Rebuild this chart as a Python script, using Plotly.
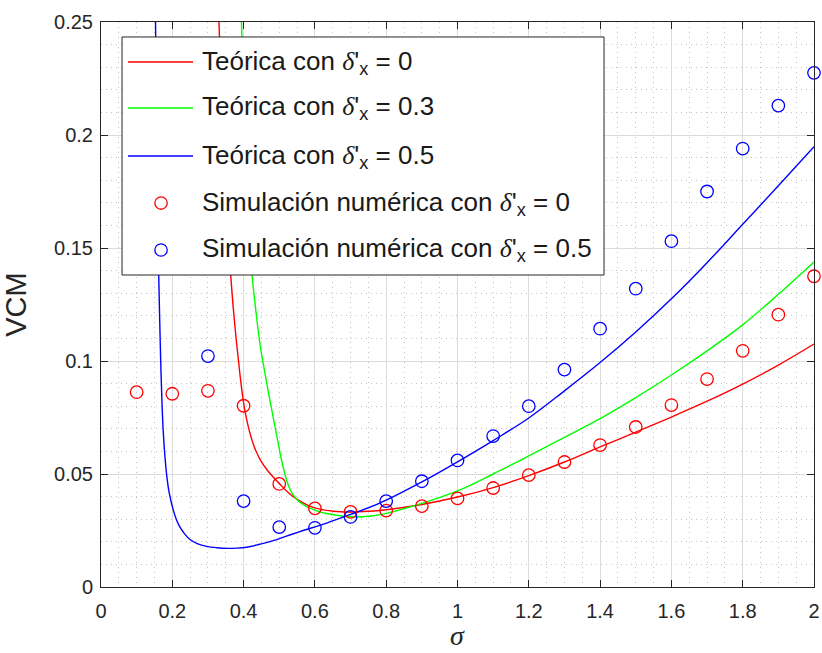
import plotly.graph_objects as go

# ---- Theoretical curves (sampled) ----
sigma_th_d0 = [0.326, 0.331, 0.340, 0.350, 0.357, 0.3638, 0.371, 0.3806, 0.390, 0.399,
               0.408, 0.418, 0.430, 0.446, 0.465, 0.483, 0.502, 0.525, 0.549, 0.5955,
               0.652, 0.698, 0.75, 0.8, 0.9, 1.0, 1.1, 1.2, 1.3, 1.4, 1.5, 1.6, 1.7,
               1.8, 1.9, 2.0]
vcm_th_d0 = [0.27, 0.25, 0.205, 0.172, 0.154, 0.1382, 0.1235, 0.1075, 0.0937, 0.0825,
             0.0745, 0.0680, 0.0620, 0.0565, 0.0520, 0.0487, 0.0455, 0.0418, 0.0389, 0.0352,
             0.0335, 0.0332, 0.0335, 0.0342, 0.0365, 0.0398, 0.0440, 0.0493, 0.0553, 0.0620,
             0.0685, 0.0752, 0.0822, 0.0898, 0.0982, 0.1075]

sigma_th_d03 = [0.390, 0.394, 0.401, 0.409, 0.416, 0.4227, 0.432, 0.446, 0.460, 0.474,
                0.493, 0.505, 0.515, 0.525, 0.537, 0.555, 0.577, 0.605, 0.633, 0.689,
                0.72, 0.764, 0.8, 0.9, 1.0, 1.1, 1.2, 1.3, 1.4, 1.5, 1.6, 1.7, 1.8,
                1.9, 2.0]
vcm_th_d03 = [0.27, 0.25, 0.212, 0.178, 0.155, 0.140, 0.1255, 0.1075, 0.0945, 0.0825,
              0.0670, 0.0572, 0.0505, 0.0452, 0.0412, 0.0378, 0.0356, 0.0337, 0.0325, 0.0312,
              0.0310, 0.0315, 0.0326, 0.0370, 0.0425, 0.0500, 0.0580, 0.0662, 0.0745, 0.0838,
              0.0938, 0.1045, 0.1160, 0.1295, 0.1438]

sigma_th_d05 = [0.152, 0.153, 0.155, 0.157, 0.159, 0.161, 0.163, 0.1655, 0.168, 0.171,
                0.1745, 0.1795, 0.185, 0.1915, 0.2028, 0.2116, 0.2216, 0.235, 0.2497, 0.27,
                0.2965, 0.325, 0.3526, 0.38, 0.4087, 0.445, 0.4833, 0.52, 0.558, 0.633,
                0.698, 0.783, 0.9, 1.0, 1.1, 1.2, 1.3, 1.4, 1.5, 1.6, 1.7, 1.8, 1.9, 2.0]
vcm_th_d05 = [0.27, 0.25, 0.216, 0.188, 0.165, 0.146, 0.130, 0.1125, 0.097, 0.0818,
              0.0690, 0.0575, 0.0485, 0.0415, 0.0340, 0.0298, 0.0265, 0.0234, 0.0210, 0.0192,
              0.0180, 0.0174, 0.0171, 0.0172, 0.0176, 0.0189, 0.0205, 0.0225, 0.0245, 0.0283,
              0.0320, 0.0372, 0.0465, 0.0554, 0.0648, 0.0748, 0.0868, 0.0993, 0.1128, 0.1275,
              0.1435, 0.1605, 0.1775, 0.1948]

# ---- Numerical simulation ----
sigma_sim_d0 = [0.1, 0.2, 0.3, 0.4, 0.5, 0.6, 0.7, 0.8, 0.9, 1.0, 1.1, 1.2, 1.3, 1.4,
                1.5, 1.6, 1.7, 1.8, 1.9, 2.0]
vcm_sim_d0 = [0.0862, 0.0855, 0.0868, 0.0802, 0.0456, 0.0348, 0.0332, 0.0338, 0.0358,
              0.0392, 0.0438, 0.0495, 0.0553, 0.0628, 0.0708, 0.0805, 0.0920, 0.1045,
              0.1205, 0.1375]

sigma_sim_d05 = [0.3, 0.4, 0.5, 0.6, 0.7, 0.8, 0.9, 1.0, 1.1, 1.2, 1.3, 1.4, 1.5, 1.6,
                 1.7, 1.8, 1.9, 2.0]
vcm_sim_d05 = [0.1022, 0.0380, 0.0265, 0.0262, 0.0310, 0.0380, 0.0468, 0.0560, 0.0668,
               0.0800, 0.0962, 0.1143, 0.1320, 0.1530, 0.1750, 0.1940, 0.2130, 0.2275]

DELTA = "<span style=\"font-family:Liberation Serif\"><i>δ</i></span>'<sub>x</sub>"
legend_labels = [
    f"Teórica con {DELTA} = 0",
    f"Teórica con {DELTA} = 0.3",
    f"Teórica con {DELTA} = 0.5",
    f"Simulación numérica con {DELTA} = 0",
    f"Simulación numérica con {DELTA} = 0.5",
]

RED, GREEN, BLUE = "#ff0000", "#00ff00", "#0000ff"
AX = "#262626"
FONT = "Liberation Sans, Arial, sans-serif"

fig = go.Figure()
for xs, ys, c in [(sigma_th_d0, vcm_th_d0, RED),
                  (sigma_th_d03, vcm_th_d03, GREEN),
                  (sigma_th_d05, vcm_th_d05, BLUE)]:
    fig.add_trace(go.Scatter(x=xs, y=ys, mode="lines",
                             line=dict(color=c, width=1.4, shape="spline", smoothing=1.0),
                             showlegend=False, hoverinfo="skip"))

for xs, ys, c in [(sigma_sim_d0, vcm_sim_d0, RED), (sigma_sim_d05, vcm_sim_d05, BLUE)]:
    fig.add_trace(go.Scatter(x=xs, y=ys, mode="markers", cliponaxis=False,
                             marker=dict(symbol="circle-open", size=12.5, color=c,
                                         line=dict(width=1.3, color=c)),
                             showlegend=False))

# ---- Legend box (drawn on the plot area, paper coordinates) ----
box = dict(x0=0.0295, x1=0.7055, y0=0.5522, y1=0.9735)
row_y = [0.9292, 0.8478, 0.7628, 0.6796, 0.5965]
sym_x0, sym_x1, sym_xc, txt_x = 0.0379, 0.129, 0.0842, 0.1389

shapes = [dict(type="rect", xref="paper", yref="paper", layer="above",
               fillcolor="white", line=dict(color=AX, width=1), **box)]
for yy, c in zip(row_y[:3], [RED, GREEN, BLUE]):
    shapes.append(dict(type="line", xref="paper", yref="paper", layer="above",
                       x0=sym_x0, x1=sym_x1, y0=yy, y1=yy, line=dict(color=c, width=1.4)))
for yy, c in zip(row_y[3:], [RED, BLUE]):
    shapes.append(dict(type="circle", xref="paper", yref="paper", layer="above",
                       xsizemode="pixel", ysizemode="pixel", xanchor=sym_xc, yanchor=yy,
                       x0=-6.2, x1=6.2, y0=-6.2, y1=6.2, line=dict(color=c, width=1.3)))

annotations = []
for yy, lab in zip(row_y, legend_labels):
    annotations.append(dict(xref="paper", yref="paper", x=txt_x, y=yy, text=lab,
                            showarrow=False, xanchor="left", yanchor="middle",
                            font=dict(family=FONT, size=26, color="#1a1a1a")))

# x-axis title, placed below the tick labels
annotations.append(dict(xref="paper", yref="paper", x=0.5, y=-0.115, text="<i>σ</i>",
                        showarrow=False, xanchor="center", yanchor="bottom", borderpad=0,
                        font=dict(family="Liberation Serif, serif", size=28, color=AX)))

axis_common = dict(showline=True, linecolor=AX, linewidth=1, mirror="ticks",
                   ticks="inside", ticklen=7, tickcolor=AX, tickwidth=1,
                   showgrid=True, gridcolor="#dcdcdc", gridwidth=1, zeroline=False,
                   automargin=False,
                   tickfont=dict(family=FONT, size=20, color=AX))

fig.update_layout(
    width=822, height=653, autosize=False,
    margin=dict(l=101, r=8, t=22, b=66),
    paper_bgcolor="white", plot_bgcolor="white",
    shapes=shapes, annotations=annotations,
    xaxis=dict(range=[0, 2], dtick=0.2, tick0=0, ticklabelstandoff=6,
               minor=dict(dtick=0.05, showgrid=True, gridcolor="#c4c4c4",
                          griddash="1px,4px", gridwidth=1),
               **axis_common),
    yaxis=dict(range=[0, 0.25], dtick=0.05, tick0=0, ticklabelstandoff=3,
               minor=dict(dtick=0.01, showgrid=True, gridcolor="#c4c4c4",
                          griddash="1px,4px", gridwidth=1),
               title=dict(text="VCM", standoff=19,
                          font=dict(family=FONT, size=29, color=AX)),
               **axis_common),
)

fig.write_html("out.html")
